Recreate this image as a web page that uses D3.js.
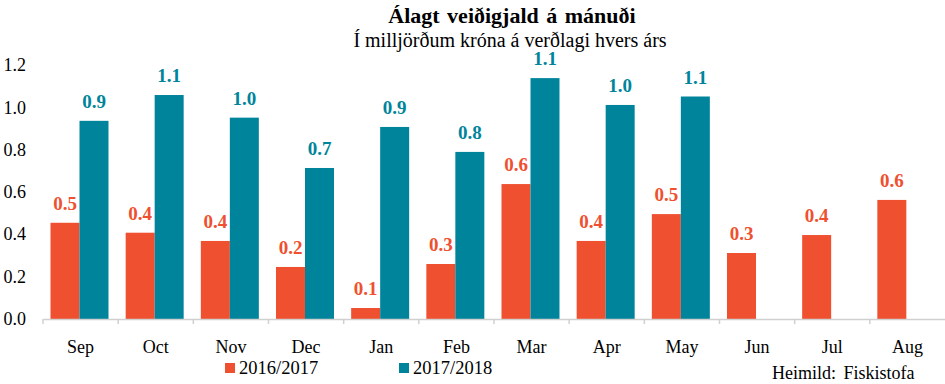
<!DOCTYPE html>
<html lang="is">
<head>
<meta charset="UTF-8">
<title>Álagt veiðigjald á mánuði</title>
<script src="https://d3js.org/d3.v7.min.js"></script>
<style>
 body { margin: 0; background: #fff; }
 svg text { font-family: "Liberation Serif", "Times New Roman", serif; fill: #000; }
</style>
</head>
<body>
<div id="chart"></div>
<script>
// Mánuðir og gildi (milljarðar króna)
const months = ["Sep", "Oct", "Nov", "Dec", "Jan", "Feb", "Mar", "Apr", "May", "Jun", "Jul", "Aug"];
const season1 = [0.455, 0.408, 0.369, 0.246, 0.052, 0.26, 0.638, 0.369, 0.496, 0.312, 0.397, 0.563];
const season2 = [0.937, 1.059, 0.952, 0.714, 0.908, 0.79, 1.139, 1.012, 1.052, null, null, null];
const seriesNames = ["2016/2017", "2017/2018"];
const yTicks = [0, 0.2, 0.4, 0.6, 0.8, 1.0, 1.2];

const colors = ["#EF5030", "#00849B"];
const serif = "'Liberation Serif', 'Times New Roman', serif";
const width = 945, height = 384;

const svg = d3.select("#chart").append("svg")
  .attr("width", width)
  .attr("height", height);

const x = d3.scaleBand().domain(months).range([43, 945]);
const x1 = d3.scaleBand().domain([0, 1]).range([7.5, 65.5]);
const y = d3.scaleLinear().domain([0, 1.2]).range([319, 65.2]);

// Titill
svg.append("text")
  .attr("x", 512).attr("y", 23)
  .attr("text-anchor", "middle")
  .style("font-family", serif)
  .style("font-size", "22px").style("font-weight", "bold")
  .style("word-spacing", "2px")
  .text("Álagt veiðigjald á mánuði");
svg.append("text")
  .attr("x", 510).attr("y", 47)
  .attr("text-anchor", "middle")
  .style("font-family", serif)
  .style("font-size", "20px")
  .text("Í milljörðum króna á verðlagi hvers árs");

// y-ás merki
svg.selectAll(".ylab")
  .data(yTicks)
  .enter()
  .append("text")
  .attr("x", 26)
  .attr("y", d => y(d) + 6)
  .attr("text-anchor", "end")
  .style("font-family", serif)
  .style("font-size", "18px")
  .text(d => d.toFixed(1));

// Súlur
[season1, season2].forEach((vals, si) => {
  const data = months.map((m, i) => ({ m, v: vals[i] })).filter(d => d.v != null);
  svg.selectAll(".bar" + si)
    .data(data)
    .enter()
    .append("rect")
    .attr("x", d => x(d.m) + x1(si))
    .attr("width", x1.bandwidth())
    .attr("y", d => y(d.v))
    .attr("height", d => y(0) - y(d.v))
    .attr("fill", colors[si]);

  svg.selectAll(".val" + si)
    .data(data)
    .enter()
    .append("text")
    .attr("x", d => x(d.m) + x1(si) + x1.bandwidth() / 2)
    .attr("y", d => y(d.v) - 13)
    .attr("text-anchor", "middle")
    .style("font-family", serif)
    .style("font-size", "19px")
    .style("font-weight", "bold")
    .style("fill", colors[si])
    .text(d => d.v.toFixed(1));
});

// x-ás
const xAxis = svg.append("g")
  .attr("transform", `translate(0,${y(0)})`)
  .call(d3.axisBottom(x).tickSize(0).tickPadding(21));
xAxis.select(".domain").attr("stroke", "#d0d0d0").attr("stroke-width", 1.5);
xAxis.selectAll(".tick text")
  .style("font-family", serif)
  .style("font-size", "18px")
  .attr("fill", "#000");

svg.selectAll(".xtick")
  .data(months)
  .enter()
  .append("line")
  .attr("x1", d => x(d)).attr("x2", d => x(d))
  .attr("y1", y(0)).attr("y2", y(0) + 5)
  .attr("stroke", "#d0d0d0").attr("stroke-width", 1.5);

// Skýringar
const legendX = [225, 399];
seriesNames.forEach((name, i) => {
  svg.append("rect")
    .attr("x", legendX[i]).attr("y", 363)
    .attr("width", 10).attr("height", 10)
    .attr("fill", colors[i]);
  svg.append("text")
    .attr("x", legendX[i] + 14).attr("y", 374)
    .style("font-family", serif)
    .style("font-size", "18.5px")
    .text(name);
});

svg.append("text")
  .attr("x", 772).attr("y", 379)
  .style("font-family", serif)
  .style("font-size", "18px")
  .style("word-spacing", "3px")
  .text("Heimild: Fiskistofa");
</script>
</body>
</html>
